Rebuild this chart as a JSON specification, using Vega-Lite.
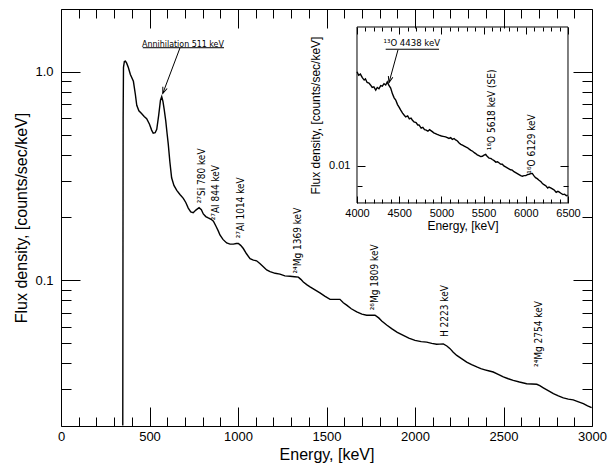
{
  "$schema": "https://vega.github.io/schema/vega-lite/v6.json",
  "width": 531,
  "height": 417,
  "autosize": {"type": "none"},
  "padding": {"left": 61, "top": 9, "right": 19, "bottom": 41},
  "background": "white",
  "config": {
    "view": {"stroke": null},
    "axis": {"domainColor": "black", "tickColor": "black", "labelColor": "black", "titleColor": "black", "labelFont": "Liberation Sans", "titleFont": "Liberation Sans", "titleFontWeight": "normal", "grid": false, "domainWidth": 1, "tickWidth": 1, "labelFlush": false}
  },
  "datasets": {
    "main": [
      {"energy": 349, "flux": 0.0201}, {"energy": 351, "flux": 0.6}, {"energy": 353, "flux": 1.05}, {"energy": 358, "flux": 1.12},
      {"energy": 364, "flux": 1.125}, {"energy": 371, "flux": 1.1}, {"energy": 380, "flux": 1.05}, {"energy": 392, "flux": 0.97},
      {"energy": 409, "flux": 0.9}, {"energy": 420, "flux": 0.78}, {"energy": 428, "flux": 0.69}, {"energy": 440, "flux": 0.65},
      {"energy": 455, "flux": 0.63}, {"energy": 470, "flux": 0.61}, {"energy": 484, "flux": 0.595}, {"energy": 500, "flux": 0.56},
      {"energy": 512, "flux": 0.525}, {"energy": 521, "flux": 0.507}, {"energy": 532, "flux": 0.51}, {"energy": 541, "flux": 0.53},
      {"energy": 552, "flux": 0.62}, {"energy": 562, "flux": 0.73}, {"energy": 569, "flux": 0.76}, {"energy": 576, "flux": 0.72},
      {"energy": 583, "flux": 0.66}, {"energy": 592, "flux": 0.58}, {"energy": 600, "flux": 0.5}, {"energy": 606, "flux": 0.45},
      {"energy": 615, "flux": 0.37}, {"energy": 625, "flux": 0.31}, {"energy": 638, "flux": 0.285}, {"energy": 654, "flux": 0.27},
      {"energy": 672, "flux": 0.258}, {"energy": 691, "flux": 0.247}, {"energy": 705, "flux": 0.236}, {"energy": 719, "flux": 0.222},
      {"energy": 733, "flux": 0.213}, {"energy": 747, "flux": 0.211}, {"energy": 762, "flux": 0.217}, {"energy": 780, "flux": 0.223},
      {"energy": 793, "flux": 0.218}, {"energy": 804, "flux": 0.208}, {"energy": 818, "flux": 0.202}, {"energy": 832, "flux": 0.199},
      {"energy": 848, "flux": 0.196}, {"energy": 861, "flux": 0.192}, {"energy": 875, "flux": 0.182}, {"energy": 889, "flux": 0.172},
      {"energy": 898, "flux": 0.165}, {"energy": 915, "flux": 0.157}, {"energy": 936, "flux": 0.151}, {"energy": 955, "flux": 0.149},
      {"energy": 974, "flux": 0.149}, {"energy": 990, "flux": 0.15}, {"energy": 1002, "flux": 0.15}, {"energy": 1015, "flux": 0.147},
      {"energy": 1030, "flux": 0.142}, {"energy": 1048, "flux": 0.134}, {"energy": 1068, "flux": 0.127}, {"energy": 1087, "flux": 0.125},
      {"energy": 1105, "flux": 0.124}, {"energy": 1125, "flux": 0.12}, {"energy": 1143, "flux": 0.116}, {"energy": 1162, "flux": 0.112},
      {"energy": 1181, "flux": 0.11}, {"energy": 1210, "flux": 0.108}, {"energy": 1237, "flux": 0.107}, {"energy": 1265, "flux": 0.105},
      {"energy": 1294, "flux": 0.1045}, {"energy": 1320, "flux": 0.104}, {"energy": 1341, "flux": 0.1035}, {"energy": 1355, "flux": 0.101},
      {"energy": 1369, "flux": 0.098}, {"energy": 1390, "flux": 0.095}, {"energy": 1407, "flux": 0.093}, {"energy": 1435, "flux": 0.09},
      {"energy": 1463, "flux": 0.087}, {"energy": 1490, "flux": 0.084}, {"energy": 1520, "flux": 0.081}, {"energy": 1550, "flux": 0.081},
      {"energy": 1576, "flux": 0.081}, {"energy": 1595, "flux": 0.078}, {"energy": 1614, "flux": 0.076}, {"energy": 1640, "flux": 0.073},
      {"energy": 1671, "flux": 0.0705}, {"energy": 1700, "flux": 0.0688}, {"energy": 1727, "flux": 0.068}, {"energy": 1750, "flux": 0.068},
      {"energy": 1774, "flux": 0.068}, {"energy": 1795, "flux": 0.066}, {"energy": 1812, "flux": 0.0638}, {"energy": 1840, "flux": 0.061},
      {"energy": 1868, "flux": 0.0586}, {"energy": 1900, "flux": 0.0563}, {"energy": 1934, "flux": 0.0544}, {"energy": 1965, "flux": 0.0528},
      {"energy": 2000, "flux": 0.0515}, {"energy": 2035, "flux": 0.0508}, {"energy": 2066, "flux": 0.0505}, {"energy": 2095, "flux": 0.0498},
      {"energy": 2122, "flux": 0.0493}, {"energy": 2140, "flux": 0.0494}, {"energy": 2160, "flux": 0.0495}, {"energy": 2180, "flux": 0.0484},
      {"energy": 2198, "flux": 0.047}, {"energy": 2216, "flux": 0.0452}, {"energy": 2236, "flux": 0.0436}, {"energy": 2265, "flux": 0.042},
      {"energy": 2292, "flux": 0.0405}, {"energy": 2320, "flux": 0.0394}, {"energy": 2349, "flux": 0.0384}, {"energy": 2372, "flux": 0.0377},
      {"energy": 2395, "flux": 0.0372}, {"energy": 2420, "flux": 0.0367}, {"energy": 2442, "flux": 0.0363}, {"energy": 2470, "flux": 0.0354},
      {"energy": 2499, "flux": 0.0344}, {"energy": 2527, "flux": 0.0337}, {"energy": 2555, "flux": 0.0331}, {"energy": 2590, "flux": 0.0325},
      {"energy": 2631, "flux": 0.0319}, {"energy": 2660, "flux": 0.0318}, {"energy": 2688, "flux": 0.0317}, {"energy": 2705, "flux": 0.0312},
      {"energy": 2725, "flux": 0.0305}, {"energy": 2755, "flux": 0.0295}, {"energy": 2782, "flux": 0.0286}, {"energy": 2810, "flux": 0.0279},
      {"energy": 2838, "flux": 0.0273}, {"energy": 2866, "flux": 0.0269}, {"energy": 2894, "flux": 0.0267}, {"energy": 2920, "flux": 0.0262},
      {"energy": 2951, "flux": 0.0256}, {"energy": 2975, "flux": 0.025}, {"energy": 2998, "flux": 0.0245}
    ],
    "inset": [
      {"energy": 4000, "flux": 0.0164}, {"energy": 4020, "flux": 0.0161}, {"energy": 4040, "flux": 0.0162}, {"energy": 4063, "flux": 0.0159},
      {"energy": 4085, "flux": 0.0157}, {"energy": 4100, "flux": 0.0158}, {"energy": 4120, "flux": 0.0155}, {"energy": 4142, "flux": 0.01545},
      {"energy": 4160, "flux": 0.0153}, {"energy": 4180, "flux": 0.0151}, {"energy": 4200, "flux": 0.01515}, {"energy": 4222, "flux": 0.0149},
      {"energy": 4240, "flux": 0.0151}, {"energy": 4260, "flux": 0.015}, {"energy": 4281, "flux": 0.01525}, {"energy": 4300, "flux": 0.0152},
      {"energy": 4320, "flux": 0.0154}, {"energy": 4340, "flux": 0.0153}, {"energy": 4359, "flux": 0.01555}, {"energy": 4375, "flux": 0.0153},
      {"energy": 4399, "flux": 0.01505}, {"energy": 4420, "flux": 0.0146}, {"energy": 4440, "flux": 0.0143}, {"energy": 4459, "flux": 0.01413},
      {"energy": 4480, "flux": 0.0138}, {"energy": 4500, "flux": 0.0136}, {"energy": 4518, "flux": 0.0134}, {"energy": 4540, "flux": 0.0132},
      {"energy": 4560, "flux": 0.01305}, {"energy": 4577, "flux": 0.01294}, {"energy": 4600, "flux": 0.013}, {"energy": 4620, "flux": 0.0128},
      {"energy": 4640, "flux": 0.01285}, {"energy": 4655, "flux": 0.01273}, {"energy": 4675, "flux": 0.0126}, {"energy": 4700, "flux": 0.01255},
      {"energy": 4720, "flux": 0.0124}, {"energy": 4735, "flux": 0.0124}, {"energy": 4760, "flux": 0.0122}, {"energy": 4780, "flux": 0.01225},
      {"energy": 4800, "flux": 0.0121}, {"energy": 4814, "flux": 0.01208}, {"energy": 4840, "flux": 0.012}, {"energy": 4860, "flux": 0.0121},
      {"energy": 4892, "flux": 0.01197}, {"energy": 4910, "flux": 0.0119}, {"energy": 4930, "flux": 0.01185}, {"energy": 4950, "flux": 0.0118},
      {"energy": 4972, "flux": 0.01175}, {"energy": 5000, "flux": 0.0117}, {"energy": 5020, "flux": 0.01168}, {"energy": 5050, "flux": 0.01165},
      {"energy": 5070, "flux": 0.0116}, {"energy": 5090, "flux": 0.01155}, {"energy": 5110, "flux": 0.0116}, {"energy": 5130, "flux": 0.0115},
      {"energy": 5150, "flux": 0.01155}, {"energy": 5169, "flux": 0.01146}, {"energy": 5190, "flux": 0.0114}, {"energy": 5210, "flux": 0.01128},
      {"energy": 5230, "flux": 0.0112}, {"energy": 5250, "flux": 0.01115}, {"energy": 5270, "flux": 0.0111}, {"energy": 5288, "flux": 0.01105},
      {"energy": 5310, "flux": 0.011}, {"energy": 5330, "flux": 0.01092}, {"energy": 5350, "flux": 0.01085}, {"energy": 5370, "flux": 0.0108},
      {"energy": 5390, "flux": 0.01072}, {"energy": 5406, "flux": 0.01067}, {"energy": 5425, "flux": 0.0106}, {"energy": 5445, "flux": 0.01055},
      {"energy": 5465, "flux": 0.0105}, {"energy": 5485, "flux": 0.01052}, {"energy": 5505, "flux": 0.01058}, {"energy": 5525, "flux": 0.01062},
      {"energy": 5545, "flux": 0.0105}, {"energy": 5565, "flux": 0.01042}, {"energy": 5585, "flux": 0.0104}, {"energy": 5603, "flux": 0.01034},
      {"energy": 5625, "flux": 0.01028}, {"energy": 5645, "flux": 0.0102}, {"energy": 5665, "flux": 0.01022}, {"energy": 5685, "flux": 0.01015},
      {"energy": 5700, "flux": 0.0101}, {"energy": 5722, "flux": 0.01009}, {"energy": 5740, "flux": 0.01}, {"energy": 5760, "flux": 0.00995},
      {"energy": 5780, "flux": 0.0099}, {"energy": 5800, "flux": 0.00985}, {"energy": 5820, "flux": 0.0098}, {"energy": 5840, "flux": 0.00978},
      {"energy": 5860, "flux": 0.0097}, {"energy": 5880, "flux": 0.00965}, {"energy": 5900, "flux": 0.0096}, {"energy": 5920, "flux": 0.00955},
      {"energy": 5940, "flux": 0.0095}, {"energy": 5959, "flux": 0.00947}, {"energy": 5980, "flux": 0.0095}, {"energy": 6000, "flux": 0.0095},
      {"energy": 6020, "flux": 0.00955}, {"energy": 6038, "flux": 0.00957}, {"energy": 6060, "flux": 0.0096}, {"energy": 6077, "flux": 0.00961},
      {"energy": 6095, "flux": 0.0095}, {"energy": 6115, "flux": 0.0094}, {"energy": 6135, "flux": 0.00935}, {"energy": 6157, "flux": 0.00927},
      {"energy": 6180, "flux": 0.0092}, {"energy": 6200, "flux": 0.0091}, {"energy": 6220, "flux": 0.00905}, {"energy": 6240, "flux": 0.009},
      {"energy": 6260, "flux": 0.0089}, {"energy": 6275, "flux": 0.00895}, {"energy": 6300, "flux": 0.0089}, {"energy": 6320, "flux": 0.00885},
      {"energy": 6340, "flux": 0.0088}, {"energy": 6360, "flux": 0.0087}, {"energy": 6380, "flux": 0.00875}, {"energy": 6393, "flux": 0.00872},
      {"energy": 6420, "flux": 0.00865}, {"energy": 6440, "flux": 0.0086}, {"energy": 6460, "flux": 0.00862}, {"energy": 6480, "flux": 0.00855},
      {"energy": 6496, "flux": 0.00857}
    ],
    "mainLabelsV": [
      {"energy": 795, "flux": 0.234, "label": "²⁷Si 780 keV"},
      {"energy": 876, "flux": 0.194, "label": "²⁷Al 844 keV"},
      {"energy": 1015, "flux": 0.159, "label": "²⁷Al 1014 keV"},
      {"energy": 1337, "flux": 0.1077, "label": "²⁴Mg 1369 keV"},
      {"energy": 1774, "flux": 0.0718, "label": "²⁶Mg 1809 keV"},
      {"energy": 2169, "flux": 0.0534, "label": "H 2223 keV"},
      {"energy": 2702, "flux": 0.0384, "label": "²⁴Mg 2754 keV"}
    ],
    "mainLabelsH": [{"energy": 689, "flux": 1.36, "label": "Annihilation 511 keV"}],
    "mainSegs": [
      {"seg": "underline", "energy": 462, "flux": 1.304}, {"seg": "underline", "energy": 921, "flux": 1.304},
      {"seg": "arrow", "energy": 672, "flux": 1.3}, {"seg": "arrow", "energy": 575, "flux": 0.787}
    ],
    "mainTip": [{"energy": 575, "flux": 0.787}],
    "insetFrame": [{"e1": 4000, "e2": 6500, "f1": 0.00823, "f2": 0.02075}],
    "insetLabelsV": [
      {"energy": 5604, "flux": 0.01086, "label": "¹⁶O 5618 keV (SE)"},
      {"energy": 6078, "flux": 0.0096, "label": "¹⁶O 6129 keV"}
    ],
    "insetLabelsH": [{"energy": 4649, "flux": 0.01905, "label": "¹³O 4438 keV"}],
    "insetSegs": [
      {"seg": "underline", "energy": 4340, "flux": 0.01846}, {"seg": "underline", "energy": 4972, "flux": 0.01846},
      {"seg": "arrow", "energy": 4486, "flux": 0.01841}, {"seg": "arrow", "energy": 4379, "flux": 0.01549}
    ],
    "insetTip": [{"energy": 4379, "flux": 0.01549}]
  },
  "layer": [
    {
      "data": {"name": "main"},
      "mark": {"type": "line", "color": "black", "strokeWidth": 1.4},
      "encoding": {
        "x": {"field": "energy", "type": "quantitative", "scale": {"domain": [0, 3000], "nice": false, "zero": false},
          "axis": {"orient": "bottom", "values": [0, 500, 1000, 1500, 2000, 2500, 3000], "format": "d", "tickSize": -19, "labelPadding": 23, "labelFontSize": 13, "title": "Energy, [keV]", "titleFontSize": 16, "titlePadding": 3}},
        "y": {"field": "flux", "type": "quantitative", "scale": {"type": "log", "domain": [0.02, 2], "nice": false},
          "axis": {"orient": "left", "values": [0.1, 1], "labelExpr": "datum.value > 0.5 ? '1.0' : '0.1'", "tickSize": -19, "labelPadding": 27, "labelFontSize": 13, "title": "Flux density, [counts/sec/keV]", "titleFontSize": 16, "titlePadding": 5}}
      }
    },
    {
      "data": {"name": "main"},
      "mark": {"type": "line", "opacity": 0},
      "encoding": {
        "x": {"field": "energy", "type": "quantitative", "scale": {"domain": [0, 3000], "nice": false, "zero": false},
          "axis": {"orient": "top", "values": [0, 500, 1000, 1500, 2000, 2500, 3000], "tickSize": -19, "labels": false, "title": null}},
        "y": {"field": "flux", "type": "quantitative", "scale": {"type": "log", "domain": [0.02, 2], "nice": false},
          "axis": {"orient": "right", "values": [0.1, 1], "tickSize": -19, "labels": false, "title": null}}
      }
    },
    {
      "data": {"name": "main"},
      "mark": {"type": "line", "opacity": 0},
      "encoding": {
        "x": {"field": "energy", "type": "quantitative", "scale": {"domain": [0, 3000], "nice": false, "zero": false},
          "axis": {"orient": "bottom", "values": [100, 200, 300, 400, 600, 700, 800, 900, 1100, 1200, 1300, 1400, 1600, 1700, 1800, 1900, 2100, 2200, 2300, 2400, 2600, 2700, 2800, 2900], "tickSize": -9, "labels": false, "domain": false, "title": null}},
        "y": {"field": "flux", "type": "quantitative", "scale": {"type": "log", "domain": [0.02, 2], "nice": false},
          "axis": {"orient": "left", "values": [0.03, 0.04, 0.05, 0.06, 0.07, 0.08, 0.09, 0.2, 0.3, 0.4, 0.5, 0.6, 0.7, 0.8, 0.9], "tickSize": -10, "labels": false, "domain": false, "title": null}}
      }
    },
    {
      "data": {"name": "main"},
      "mark": {"type": "line", "opacity": 0},
      "encoding": {
        "x": {"field": "energy", "type": "quantitative", "scale": {"domain": [0, 3000], "nice": false, "zero": false},
          "axis": {"orient": "top", "values": [100, 200, 300, 400, 600, 700, 800, 900, 1100, 1200, 1300, 1400, 1600, 1700, 1800, 1900, 2100, 2200, 2300, 2400, 2600, 2700, 2800, 2900], "tickSize": -9, "labels": false, "domain": false, "title": null}},
        "y": {"field": "flux", "type": "quantitative", "scale": {"type": "log", "domain": [0.02, 2], "nice": false},
          "axis": {"orient": "right", "values": [0.03, 0.04, 0.05, 0.06, 0.07, 0.08, 0.09, 0.2, 0.3, 0.4, 0.5, 0.6, 0.7, 0.8, 0.9], "tickSize": -10, "labels": false, "domain": false, "title": null}}
      }
    },
    {
      "data": {"name": "mainLabelsV"},
      "mark": {"type": "text", "angle": 270, "align": "left", "baseline": "middle", "font": "Liberation Sans Narrow, DejaVu Sans Condensed, Liberation Sans", "fontSize": 10, "color": "black"},
      "encoding": {
        "x": {"field": "energy", "type": "quantitative", "scale": {"domain": [0, 3000], "nice": false, "zero": false}, "axis": null},
        "y": {"field": "flux", "type": "quantitative", "scale": {"type": "log", "domain": [0.02, 2], "nice": false}, "axis": null},
        "text": {"field": "label"}
      }
    },
    {
      "data": {"name": "mainLabelsH"},
      "mark": {"type": "text", "align": "center", "baseline": "middle", "font": "Liberation Sans Narrow, DejaVu Sans Condensed, Liberation Sans", "fontSize": 8.8, "color": "black"},
      "encoding": {
        "x": {"field": "energy", "type": "quantitative", "scale": {"domain": [0, 3000], "nice": false, "zero": false}, "axis": null},
        "y": {"field": "flux", "type": "quantitative", "scale": {"type": "log", "domain": [0.02, 2], "nice": false}, "axis": null},
        "text": {"field": "label"}
      }
    },
    {
      "data": {"name": "mainSegs"},
      "mark": {"type": "line", "color": "black", "strokeWidth": 1},
      "encoding": {
        "x": {"field": "energy", "type": "quantitative", "scale": {"domain": [0, 3000], "nice": false, "zero": false}, "axis": null},
        "y": {"field": "flux", "type": "quantitative", "scale": {"type": "log", "domain": [0.02, 2], "nice": false}, "axis": null},
        "detail": {"field": "seg", "type": "nominal"}
      }
    },
    {
      "data": {"name": "mainTip"},
      "mark": {"type": "point", "shape": "M -0.6 1.6 L 0 0 L 0.6 1.6", "filled": false, "stroke": "black", "strokeWidth": 1, "size": 60, "angle": 201, "opacity": 1},
      "encoding": {
        "x": {"field": "energy", "type": "quantitative", "scale": {"domain": [0, 3000], "nice": false, "zero": false}, "axis": null},
        "y": {"field": "flux", "type": "quantitative", "scale": {"type": "log", "domain": [0.02, 2], "nice": false}, "axis": null}
      }
    },
    {
      "data": {"name": "insetFrame"},
      "mark": {"type": "rect", "filled": false, "stroke": "black", "strokeWidth": 1},
      "encoding": {
        "x": {"field": "e1", "type": "quantitative", "scale": {"domain": [492.9, 6784.4], "nice": false, "zero": false}, "axis": null},
        "x2": {"field": "e2"},
        "y": {"field": "f1", "type": "quantitative", "scale": {"type": "log", "domain": [0.002549, 0.022807], "nice": false}, "axis": null},
        "y2": {"field": "f2"}
      }
    },
    {
      "data": {"name": "inset"},
      "mark": {"type": "line", "color": "black", "strokeWidth": 1.4},
      "encoding": {
        "x": {"field": "energy", "type": "quantitative", "scale": {"domain": [492.9, 6784.4], "nice": false, "zero": false},
          "axis": {"orient": "bottom", "offset": -223, "values": [4000, 4500, 5000, 5500, 6000, 6500], "format": "d", "domain": false, "tickSize": -7, "labelPadding": 11, "labelFontSize": 11, "title": "Energy, [keV]", "titleX": 401.5, "titleFontSize": 12, "titlePadding": 2}},
        "y": {"field": "flux", "type": "quantitative", "scale": {"type": "log", "domain": [0.002549, 0.022807], "nice": false},
          "axis": {"orient": "left", "offset": -296, "values": [0.01], "format": ".2f", "domain": false, "tickSize": -8, "labelPadding": 15, "labelFontSize": 11, "title": "Flux density, [counts/sec/keV]", "titleY": 106, "titleFontSize": 12, "titlePadding": 6}}
      }
    },
    {
      "data": {"name": "inset"},
      "mark": {"type": "line", "opacity": 0},
      "encoding": {
        "x": {"field": "energy", "type": "quantitative", "scale": {"domain": [492.9, 6784.4], "nice": false, "zero": false},
          "axis": {"orient": "top", "offset": -18, "values": [4000, 4500, 5000, 5500, 6000, 6500], "tickSize": -7, "labels": false, "domain": false, "title": null}},
        "y": {"field": "flux", "type": "quantitative", "scale": {"type": "log", "domain": [0.002549, 0.022807], "nice": false},
          "axis": {"orient": "right", "offset": -24, "values": [0.01], "tickSize": -8, "labels": false, "domain": false, "title": null}}
      }
    },
    {
      "data": {"name": "inset"},
      "mark": {"type": "line", "opacity": 0},
      "encoding": {
        "x": {"field": "energy", "type": "quantitative", "scale": {"domain": [492.9, 6784.4], "nice": false, "zero": false},
          "axis": {"orient": "bottom", "offset": -223, "values": [4100, 4200, 4300, 4400, 4600, 4700, 4800, 4900, 5100, 5200, 5300, 5400, 5600, 5700, 5800, 5900, 6100, 6200, 6300, 6400], "tickSize": -4, "labels": false, "domain": false, "title": null}},
        "y": {"field": "flux", "type": "quantitative", "scale": {"type": "log", "domain": [0.002549, 0.022807], "nice": false},
          "axis": {"orient": "left", "offset": -296, "values": [0.009], "tickSize": -5, "labels": false, "domain": false, "title": null}}
      }
    },
    {
      "data": {"name": "inset"},
      "mark": {"type": "line", "opacity": 0},
      "encoding": {
        "x": {"field": "energy", "type": "quantitative", "scale": {"domain": [492.9, 6784.4], "nice": false, "zero": false},
          "axis": {"orient": "top", "offset": -18, "values": [4100, 4200, 4300, 4400, 4600, 4700, 4800, 4900, 5100, 5200, 5300, 5400, 5600, 5700, 5800, 5900, 6100, 6200, 6300, 6400], "tickSize": -4, "labels": false, "domain": false, "title": null}},
        "y": {"field": "flux", "type": "quantitative", "scale": {"type": "log", "domain": [0.002549, 0.022807], "nice": false},
          "axis": {"orient": "right", "offset": -24, "values": [0.009], "tickSize": -5, "labels": false, "domain": false, "title": null}}
      }
    },
    {
      "data": {"name": "insetLabelsV"},
      "mark": {"type": "text", "angle": 270, "align": "left", "baseline": "middle", "font": "Liberation Sans Narrow, DejaVu Sans Condensed, Liberation Sans", "fontSize": 10, "color": "black"},
      "encoding": {
        "x": {"field": "energy", "type": "quantitative", "scale": {"domain": [492.9, 6784.4], "nice": false, "zero": false}, "axis": null},
        "y": {"field": "flux", "type": "quantitative", "scale": {"type": "log", "domain": [0.002549, 0.022807], "nice": false}, "axis": null},
        "text": {"field": "label"}
      }
    },
    {
      "data": {"name": "insetLabelsH"},
      "mark": {"type": "text", "align": "center", "baseline": "middle", "font": "Liberation Sans Narrow, DejaVu Sans Condensed, Liberation Sans", "fontSize": 9.5, "color": "black"},
      "encoding": {
        "x": {"field": "energy", "type": "quantitative", "scale": {"domain": [492.9, 6784.4], "nice": false, "zero": false}, "axis": null},
        "y": {"field": "flux", "type": "quantitative", "scale": {"type": "log", "domain": [0.002549, 0.022807], "nice": false}, "axis": null},
        "text": {"field": "label"}
      }
    },
    {
      "data": {"name": "insetSegs"},
      "mark": {"type": "line", "color": "black", "strokeWidth": 1},
      "encoding": {
        "x": {"field": "energy", "type": "quantitative", "scale": {"domain": [492.9, 6784.4], "nice": false, "zero": false}, "axis": null},
        "y": {"field": "flux", "type": "quantitative", "scale": {"type": "log", "domain": [0.002549, 0.022807], "nice": false}, "axis": null},
        "detail": {"field": "seg", "type": "nominal"}
      }
    },
    {
      "data": {"name": "insetTip"},
      "mark": {"type": "point", "shape": "M -0.6 1.6 L 0 0 L 0.6 1.6", "filled": false, "stroke": "black", "strokeWidth": 1, "size": 60, "angle": 195, "opacity": 1},
      "encoding": {
        "x": {"field": "energy", "type": "quantitative", "scale": {"domain": [492.9, 6784.4], "nice": false, "zero": false}, "axis": null},
        "y": {"field": "flux", "type": "quantitative", "scale": {"type": "log", "domain": [0.002549, 0.022807], "nice": false}, "axis": null}
      }
    }
  ],
  "resolve": {"scale": {"x": "independent", "y": "independent"}, "axis": {"x": "independent", "y": "independent"}}
}
